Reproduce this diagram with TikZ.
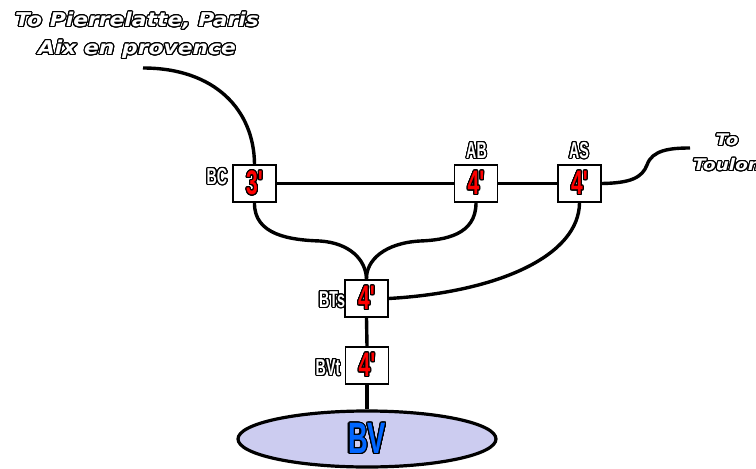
\documentclass[tikz,border=0pt]{standalone}
\usepackage{fontspec}
\usepackage[copies]{contour}
\usetikzlibrary{shapes.geometric}
\newfontfamily\condfont[FakeStretch=0.62]{Liberation Sans Bold}
\newfontfamily\widefont[FakeStretch=1.15]{DejaVu Sans Bold Oblique}
\newcommand\myapos{\char"27\relax}
\contourlength{1.1pt}
\contournumber{24}
\definecolor{bvfill}{RGB}{204,204,240}
\definecolor{bvtext}{RGB}{0,102,255}
\tikzset{
  sigbox/.style={draw=black, line width=1.8pt, fill=white, minimum width=43pt, minimum height=37pt, inner sep=0pt, text=red, font=\condfont\fontsize{34}{34}\selectfont},
  track/.style={line width=3.4pt},
  lbl/.style={text=white, font=\condfont\fontsize{23}{23}\selectfont, inner sep=0pt},
  dest/.style={text=white, font=\widefont\fontsize{19}{28}\selectfont, align=center, inner sep=0pt},
}
\begin{document}
\begin{tikzpicture}[x=1pt,y=-1pt]
\useasboundingbox (0,0) rectangle (756,469);
\clip (0,0) rectangle (756,469);
\node[sigbox] (BC) at (254.5,183.5) {\contour{black}{3\myapos}};
\node[sigbox] (AB) at (476,183.5) {\contour{black}{4\myapos}};
\node[sigbox] (AS) at (579.5,183.5) {\contour{black}{4\myapos}};
\node[sigbox] (BTs) at (366.5,298.5) {\contour{black}{4\myapos}};
\node[sigbox] (BVt) at (367,365.5) {\contour{black}{4\myapos}};
\node[ellipse, draw=black, line width=3.2pt, fill=bvfill, minimum width=258pt, minimum height=56pt, text=bvtext, font=\condfont\fontsize{44}{44}\selectfont] (BV) at (367,439) {\contour{black}{BV}};

\node[lbl] (lBC) at (217,177) {\contour{black}{BC}};
\node[lbl] (lAB) at (476.5,151) {\contour{black}{AB}};
\node[lbl] (lAS) at (579,151) {\contour{black}{AS}};
\node[lbl] (lBTs) at (332,300) {\contour{black}{BTs}};
\node[lbl] (lBVt) at (328,368) {\contour{black}{BVt}};

\node[dest] (dtop) at (137,36) {\contour{black}{To Pierrelatte, Paris}\\\contour{black}{Aix en provence}};
\node[dest, font=\widefont\fontsize{16}{25}\selectfont] (dtoul) at (727,153) {\contour{black}{To}\\\contour{black}{Toulon}};

\coordinate (topend) at (143,68);
\coordinate (toulend) at (690,148);

\draw[track] (topend) .. controls (215,68) and (254,110) .. (BC.north);
\draw[track] (BC.east) -- (AB.west);
\draw[track] (AB.east) -- (AS.west);
\draw[track] (AS.east) .. controls (630,183) and (642,178) .. (647,165) .. controls (652,150) and (670,148) .. (toulend);
\draw[track] (BC.south) .. controls (254,235) and (290,240) .. (320,241) .. controls (350,243) and (366,260) .. (BTs.north);
\draw[track] (AB.south) .. controls (476,235) and (445,240) .. (420,241) .. controls (385,243) and (366,260) .. (BTs.north);
\draw[track] (AS.south) .. controls (579,255) and (500,292) .. (BTs.east);
\draw[track] (BTs.south) -- (BVt.north);
\draw[track] (BVt.south) -- (BV.north);
\end{tikzpicture}
\end{document}
